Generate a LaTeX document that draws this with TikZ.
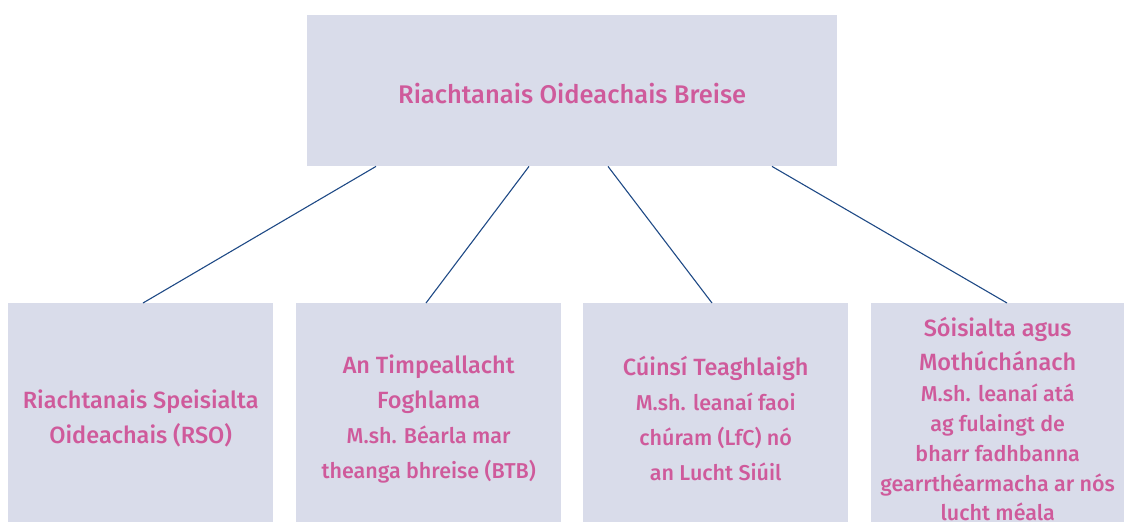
\documentclass[tikz,border=0pt]{standalone}
\usepackage{fontspec}
\setmainfont{Fira Sans}[BoldFont={Fira Sans Medium}]
\usetikzlibrary{calc}
\definecolor{boxfill}{HTML}{D9DCEA}
\definecolor{txtpink}{HTML}{CF5A9B}
\definecolor{linkblue}{HTML}{1F4A86}
\newcommand{\hdr}{\fontsize{23.5}{35}\selectfont}
\newcommand{\subt}{\fontsize{21.5}{32}\selectfont}
\begin{document}
\begin{tikzpicture}[x=1pt,y=-1pt,
  boxstyle/.style={fill=boxfill,draw=none,inner sep=0pt,anchor=north west},
  labelstyle/.style={text=txtpink,align=center,inner sep=0pt,font=\bfseries\hdr},
  link/.style={draw=linkblue,line width=1.1pt}]
\useasboundingbox (0,0) rectangle (1124,522);
\node[boxstyle,minimum width=530pt,minimum height=151pt] (top) at (307,15) {};
\node[boxstyle,minimum width=265pt,minimum height=219pt] (b1) at (8,303) {};
\node[boxstyle,minimum width=265pt,minimum height=219pt] (b2) at (296,303) {};
\node[boxstyle,minimum width=265pt,minimum height=219pt] (b3) at (583,303) {};
\node[boxstyle,minimum width=253pt,minimum height=219pt] (b4) at (871,303) {};
\node[labelstyle,font=\bfseries\fontsize{25.5}{35}\selectfont] (t0) at ($(top.center)+(0,3)$) {Riachtanais Oideachais Breise};
\node[labelstyle] (t1) at ($(b1.center)+(0,6)$) {Riachtanais Speisialta\\Oideachais (RSO)};
\node[labelstyle] (t2) at ($(b2.center)+(0,6)$) {An Timpeallacht\\Foghlama\\\subt M.sh. Béarla mar\\\subt theanga bhreise (BTB)};
\node[labelstyle] (t3) at ($(b3.center)+(0,6)$) {Cúinsí Teaghlaigh\\\subt M.sh. leanaí faoi\\\subt chúram (LfC) nó\\\subt an Lucht Siúil};
\node[labelstyle] (t4) at ($(b4.center)+(0,6.5)$) {Sóisialta agus\\[-1pt]Mothúchánach\\[-4pt]\subt M.sh. leanaí atá\\[-5pt]\subt ag fulaingt de\\[-5pt]\subt bharr fadhbanna\\[-5pt]\subt gearrthéarmacha ar nós\\[-6pt]\subt lucht méala};
\draw[link] ($(top.south west)+(69,0)$) -- ($(b1.north west)+(135,0)$);
\draw[link] ($(top.south west)+(222,0)$) -- ($(b2.north west)+(130,0)$);
\draw[link] ($(top.south west)+(301,0)$) -- ($(b3.north west)+(129,0)$);
\draw[link] ($(top.south west)+(465,0)$) -- ($(b4.north west)+(136,0)$);
\end{tikzpicture}
\end{document}
